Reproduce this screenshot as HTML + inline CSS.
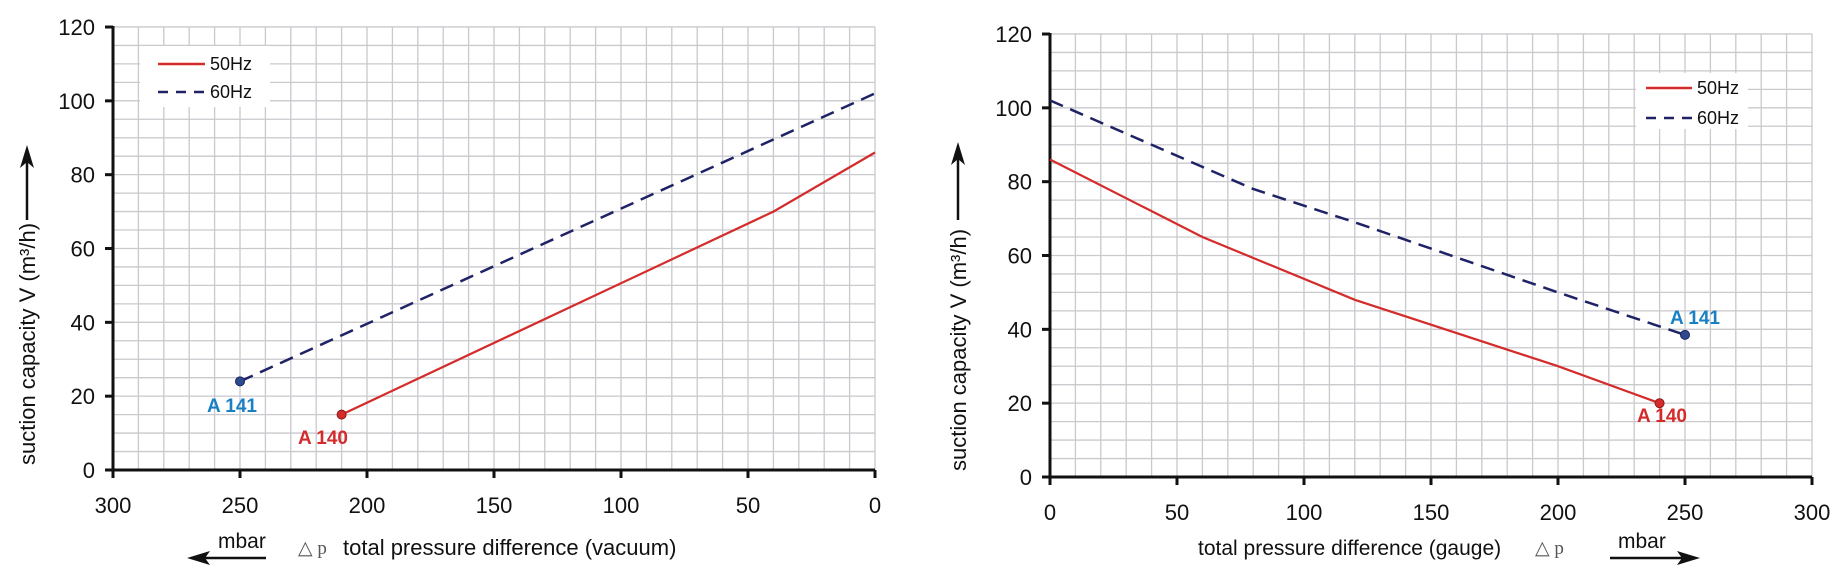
<!DOCTYPE html>
<html><head><meta charset="utf-8"><style>
html,body{margin:0;padding:0;background:#fff;}
svg{display:block;font-family:"Liberation Sans",Arial,sans-serif;}
</style></head><body>
<svg id="s" width="1839" height="580" viewBox="0 0 1839 580" xmlns="http://www.w3.org/2000/svg">
<g id="grid" stroke="#c9c9ce" stroke-width="1.3"></g>
<g id="axes" stroke="#111" stroke-width="3" fill="none"></g>
<g id="lbl" font-size="22" fill="#111"></g>

<!-- left legend -->
<rect x="140" y="46" width="130" height="61" fill="#fff"/>
<line x1="158" y1="64" x2="205" y2="64" stroke="#d42b2b" stroke-width="2.5"/>
<line x1="158" y1="92" x2="205" y2="92" stroke="#1f2366" stroke-width="2.5" stroke-dasharray="10,8"/>
<text x="210" y="70" font-size="18" fill="#111">50Hz</text>
<text x="210" y="98" font-size="18" fill="#111">60Hz</text>

<!-- right legend -->
<rect x="1636" y="73" width="112" height="56" fill="#fff"/>
<line x1="1646" y1="88" x2="1692" y2="88" stroke="#d42b2b" stroke-width="2.5"/>
<line x1="1646" y1="118" x2="1692" y2="118" stroke="#1f2366" stroke-width="2.5" stroke-dasharray="10,8"/>
<text x="1697" y="94" font-size="18" fill="#111">50Hz</text>
<text x="1697" y="124" font-size="18" fill="#111">60Hz</text>

<!-- left series -->
<polyline points="240,381.4 875,93.4" fill="none" stroke="#1f2366" stroke-width="2.5" stroke-dasharray="14,8"/>
<polyline points="341.6,414.6 773.4,211.6 875,152.5" fill="none" stroke="#d42b2b" stroke-width="2.2"/>
<circle cx="240" cy="381.4" r="4.5" fill="#2c4a8c" stroke="#1f2366"/>
<circle cx="341.6" cy="414.6" r="4.5" fill="#d42b2b" stroke="#8a1a1a"/>
<text x="232" y="412" font-size="19" font-weight="bold" fill="#1a80c4" text-anchor="middle">A 141</text>
<text x="323" y="444" font-size="19" font-weight="bold" fill="#d42b2b" text-anchor="middle">A 140</text>

<!-- right series -->
<polyline points="1050,100.4 1202.4,166.9 1253.2,189 1354.8,222.3 1558,292.4 1685,334.9" fill="none" stroke="#1f2366" stroke-width="2.5" stroke-dasharray="14,8"/>
<polyline points="1050,159.5 1202.4,237 1354.8,299.8 1558,366.2 1659.6,403.2" fill="none" stroke="#d42b2b" stroke-width="2.2"/>
<circle cx="1685" cy="334.9" r="4.5" fill="#2c4a8c" stroke="#1f2366"/>
<circle cx="1659.6" cy="403.2" r="4.5" fill="#d42b2b" stroke="#8a1a1a"/>
<text x="1695" y="324" font-size="19" font-weight="bold" fill="#1a80c4" text-anchor="middle">A 141</text>
<text x="1662" y="422" font-size="19" font-weight="bold" fill="#d42b2b" text-anchor="middle">A 140</text>

<!-- y titles -->
<text transform="translate(35,344) rotate(-90)" font-size="22" fill="#111" text-anchor="middle">suction capacity V (m³/h)</text>
<line x1="27" y1="220" x2="27" y2="160" stroke="#111" stroke-width="2.5"/>
<polygon points="27,145 20,168 27,162 34,168" fill="#111"/>
<text transform="translate(966,350) rotate(-90)" font-size="22" fill="#111" text-anchor="middle">suction capacity V (m³/h)</text>
<line x1="958" y1="220" x2="958" y2="158" stroke="#111" stroke-width="2.5"/>
<polygon points="958,142 951,165 958,159 965,165" fill="#111"/>

<!-- x titles -->
<text x="218" y="548" font-size="21" fill="#111">mbar</text>
<line x1="205" y1="558" x2="266" y2="558" stroke="#111" stroke-width="2.5"/>
<polygon points="187,558 210,551 205,558 210,565" fill="#111"/>
<text x="298" y="554" font-size="19" fill="#555" font-family="Liberation Serif,serif">△ p</text>
<text x="343" y="555" font-size="22" fill="#111">total pressure difference (vacuum)</text>

<text x="1198" y="555" font-size="21" fill="#111">total pressure difference (gauge)</text>
<text x="1535" y="554" font-size="19" fill="#555" font-family="Liberation Serif,serif">△ p</text>
<text x="1618" y="548" font-size="21" fill="#111">mbar</text>
<line x1="1610" y1="558" x2="1682" y2="558" stroke="#111" stroke-width="2.5"/>
<polygon points="1700,558 1677,551 1682,558 1677,565" fill="#111"/>
</svg>
<script>
(function(){
var NS="http://www.w3.org/2000/svg";
var g=document.getElementById('grid'),a=document.getElementById('axes'),l=document.getElementById('lbl');
function ln(p,x1,y1,x2,y2){var e=document.createElementNS(NS,'line');e.setAttribute('x1',x1);e.setAttribute('y1',y1);e.setAttribute('x2',x2);e.setAttribute('y2',y2);p.appendChild(e);}
function tx(x,y,s,anc){var e=document.createElementNS(NS,'text');e.setAttribute('x',x);e.setAttribute('y',y);e.setAttribute('text-anchor',anc);e.textContent=s;l.appendChild(e);}
var charts=[{x0:113,x1:875,y0:470,rev:true},{x0:1050,x1:1812,y0:477,rev:false}];
charts.forEach(function(c){
  var ytop=c.y0-443;
  for(var i=1;i<=30;i++){var x=c.x0+i*25.4;ln(g,x,ytop,x,c.y0);}
  for(var j=1;j<=24;j++){var y=c.y0-j*18.46;ln(g,c.x0,y,c.x1,y);}
  ln(a,c.x0,ytop-1,c.x0,c.y0);ln(a,c.x0-1.5,c.y0,c.x1,c.y0);
  for(var k=0;k<=6;k++){var x=c.x0+k*127;ln(a,x,c.y0,x,c.y0+8);
    var v=c.rev?300-k*50:k*50;tx(x,c.y0+43,String(v),'middle');}
  for(var m=0;m<=6;m++){var y=c.y0-m*73.83;ln(a,c.x0-8,y,c.x0,y);tx(c.x0-18,y+8,String(m*20),'end');}
});
})();
</script>
</body></html>
